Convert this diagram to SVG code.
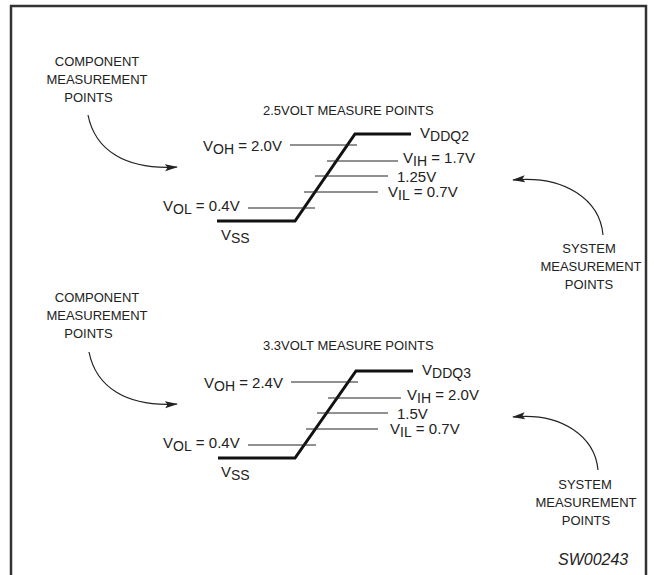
<svg xmlns="http://www.w3.org/2000/svg" width="654" height="575" viewBox="0 0 654 575">
<defs>
<style>
text{font-family:"Liberation Sans",Arial,sans-serif;fill:#222}
.lbl{font-size:13px}
.mid{text-anchor:middle}
.v{font-size:15px}
.sub{font-size:14px}
.thin{stroke:#222;stroke-width:1;fill:none}
.thick{stroke:#111;stroke-width:3;fill:none;stroke-linejoin:miter}
.arc{stroke:#222;stroke-width:1.2;fill:none;marker-end:url(#ah)}
</style>
<marker id="ah" viewBox="0 0 13 8" refX="12" refY="4" markerWidth="13" markerHeight="8" markerUnits="userSpaceOnUse" orient="auto">
<path d="M0,0.5 L13,4 L0,7.5 L2.5,4 z" fill="#222"/>
</marker>
</defs>
<rect x="0" y="0" width="654" height="575" fill="#fff"/>
<rect id="frame" x="11" y="6" width="635" height="620" fill="none" stroke="#333" stroke-width="2.5"/>

<g id="connectors">
<path class="arc" d="M88,115 C95,150 125,170 177,167"/>
<path class="arc" d="M603,235 C600,200 565,175 513,180"/>
<path class="arc" d="M89,352 C96,387 126,407 177,404"/>
<path class="arc" d="M598,470 C595,437 562,412 513,417"/>
</g>

<g id="comp1">
<text class="lbl mid" x="97" y="66">COMPONENT</text>
<text class="lbl mid" x="97" y="84">MEASUREMENT</text>
<text class="lbl mid" x="88.5" y="102">POINTS</text>
</g>
<g id="sys1">
<text class="lbl mid" x="589" y="253">SYSTEM</text>
<text class="lbl mid" x="591" y="271">MEASUREMENT</text>
<text class="lbl mid" x="589" y="289">POINTS</text>
</g>
<g id="wave1">
<text class="lbl" x="263" y="115">2.5VOLT MEASURE POINTS</text>
<path class="thick" d="M217,221 H295 L355,134 H411"/>
<line class="thin" x1="290" y1="145" x2="357" y2="145"/>
<line class="thin" x1="327" y1="161" x2="398" y2="161"/>
<line class="thin" x1="315" y1="176" x2="388" y2="176"/>
<line class="thin" x1="304" y1="192" x2="378" y2="192"/>
<line class="thin" x1="248" y1="208" x2="315" y2="208"/>
<text class="v" x="420" y="138">V<tspan class="sub" dy="3">DDQ2</tspan></text>
<text class="v" x="203" y="151">V<tspan class="sub" dy="3">OH</tspan><tspan dy="-3"> = 2.0V</tspan></text>
<text class="v" x="403" y="163">V<tspan class="sub" dy="3">IH</tspan><tspan dy="-3"> = 1.7V</tspan></text>
<text class="v" x="397" y="182">1.25V</text>
<text class="v" x="388" y="197">V<tspan class="sub" dy="3">IL</tspan><tspan dy="-3"> = 0.7V</tspan></text>
<text class="v" x="163" y="211">V<tspan class="sub" dy="3">OL</tspan><tspan dy="-3"> = 0.4V</tspan></text>
<text class="v" x="221" y="240">V<tspan class="sub" dy="3">SS</tspan></text>
</g>

<g id="comp2">
<text class="lbl mid" x="97" y="302">COMPONENT</text>
<text class="lbl mid" x="97" y="320">MEASUREMENT</text>
<text class="lbl mid" x="88.5" y="338">POINTS</text>
</g>
<g id="sys2">
<text class="lbl mid" x="585" y="489">SYSTEM</text>
<text class="lbl mid" x="586" y="507">MEASUREMENT</text>
<text class="lbl mid" x="586" y="525">POINTS</text>
</g>
<g id="wave2">
<text class="lbl" x="263" y="350">3.3VOLT MEASURE POINTS</text>
<path class="thick" d="M218,458 H295 L356,371 H413"/>
<line class="thin" x1="291" y1="382" x2="358" y2="382"/>
<line class="thin" x1="328" y1="398" x2="401" y2="398"/>
<line class="thin" x1="317" y1="413" x2="388" y2="413"/>
<line class="thin" x1="306" y1="429" x2="378" y2="429"/>
<line class="thin" x1="248" y1="445" x2="316" y2="445"/>
<text class="v" x="422" y="375">V<tspan class="sub" dy="3">DDQ3</tspan></text>
<text class="v" x="204" y="388">V<tspan class="sub" dy="3">OH</tspan><tspan dy="-3"> = 2.4V</tspan></text>
<text class="v" x="407" y="400">V<tspan class="sub" dy="3">IH</tspan><tspan dy="-3"> = 2.0V</tspan></text>
<text class="v" x="397" y="419">1.5V</text>
<text class="v" x="390" y="434">V<tspan class="sub" dy="3">IL</tspan><tspan dy="-3"> = 0.7V</tspan></text>
<text class="v" x="163" y="448">V<tspan class="sub" dy="3">OL</tspan><tspan dy="-3"> = 0.4V</tspan></text>
<text class="v" x="221" y="477">V<tspan class="sub" dy="3">SS</tspan></text>
</g>

<text id="code" x="558" y="565" style="font-size:16px;font-style:italic">SW00243</text>
</svg>
